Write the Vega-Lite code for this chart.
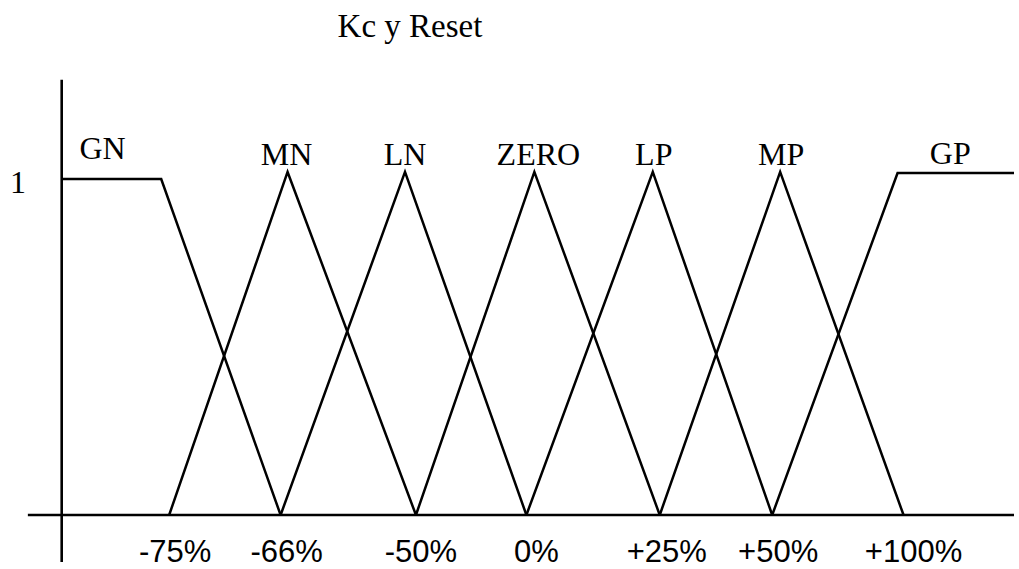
{
  "$schema": "https://vega.github.io/schema/vega-lite/v6.json",
  "width": 1019,
  "height": 569,
  "autosize": {"type": "fit", "contains": "padding"},
  "padding": 0,
  "background": "white",
  "config": {"view": {"stroke": null}},
  "datasets": {
    "sets": [
      {"set": "GN", "o": 0, "x": 62, "y": 1.0},
      {"set": "GN", "o": 1, "x": 162, "y": 1.0},
      {"set": "GN", "o": 2, "x": 282, "y": 0},
      {"set": "MN", "o": 0, "x": 170, "y": 0},
      {"set": "MN", "o": 1, "x": 289, "y": 1.021},
      {"set": "MN", "o": 2, "x": 418, "y": 0},
      {"set": "LN", "o": 0, "x": 282, "y": 0},
      {"set": "LN", "o": 1, "x": 407, "y": 1.021},
      {"set": "LN", "o": 2, "x": 529, "y": 0},
      {"set": "ZERO", "o": 0, "x": 418, "y": 0},
      {"set": "ZERO", "o": 1, "x": 537, "y": 1.021},
      {"set": "ZERO", "o": 2, "x": 663, "y": 0},
      {"set": "LP", "o": 0, "x": 529, "y": 0},
      {"set": "LP", "o": 1, "x": 656, "y": 1.021},
      {"set": "LP", "o": 2, "x": 776, "y": 0},
      {"set": "MP", "o": 0, "x": 663, "y": 0},
      {"set": "MP", "o": 1, "x": 784, "y": 1.021},
      {"set": "MP", "o": 2, "x": 908, "y": 0},
      {"set": "GP", "o": 0, "x": 776, "y": 0},
      {"set": "GP", "o": 1, "x": 902, "y": 1.018},
      {"set": "GP", "o": 2, "x": 1019, "y": 1.018}
    ],
    "serifText": [
      {"label": "Kc y Reset", "x": 412, "y": 1.4226, "size": 33},
      {"label": "GN", "x": 103, "y": 1.0595, "size": 32},
      {"label": "MN", "x": 288, "y": 1.0417, "size": 32},
      {"label": "LN", "x": 407, "y": 1.0417, "size": 32},
      {"label": "ZERO", "x": 541, "y": 1.0417, "size": 32},
      {"label": "LP", "x": 657, "y": 1.0417, "size": 32},
      {"label": "MP", "x": 785, "y": 1.0417, "size": 32},
      {"label": "GP", "x": 955, "y": 1.0446, "size": 32},
      {"label": "1", "x": 18, "y": 0.958, "size": 32}
    ],
    "ticks": [
      {"label": "-75%", "x": 176, "y": -0.1399},
      {"label": "-66%", "x": 288, "y": -0.1399},
      {"label": "-50%", "x": 423, "y": -0.1399},
      {"label": "0%", "x": 539, "y": -0.1399},
      {"label": "+25%", "x": 670, "y": -0.1399},
      {"label": "+50%", "x": 782, "y": -0.1399},
      {"label": "+100%", "x": 918, "y": -0.1399}
    ]
  },
  "encoding": {
    "x": {"field": "x", "type": "quantitative", "scale": {"domain": [0, 1019], "nice": false, "zero": false}, "axis": null},
    "y": {"field": "y", "type": "quantitative", "scale": {"domain": [-0.1607, 1.5327], "nice": false, "zero": false}, "axis": null}
  },
  "layer": [
    {
      "data": {"values": [{"x": 62, "y": -0.14, "y2": 1.295}]},
      "mark": {"type": "rule", "color": "black", "strokeWidth": 2.6},
      "encoding": {"y2": {"field": "y2"}}
    },
    {
      "data": {"values": [{"x": 28, "x2": 1019, "y": 0}]},
      "mark": {"type": "rule", "color": "black", "strokeWidth": 2.6},
      "encoding": {"x2": {"field": "x2"}}
    },
    {
      "data": {"name": "sets"},
      "mark": {"type": "line", "color": "black", "strokeWidth": 2.5},
      "encoding": {
        "detail": {"field": "set", "type": "nominal"},
        "order": {"field": "o", "type": "quantitative"}
      }
    },
    {
      "data": {"name": "serifText"},
      "mark": {"type": "text", "font": "Liberation Serif", "color": "black", "align": "center", "baseline": "alphabetic"},
      "encoding": {
        "text": {"field": "label"},
        "size": {"field": "size", "type": "quantitative", "scale": null}
      }
    },
    {
      "data": {"name": "ticks"},
      "mark": {"type": "text", "font": "Liberation Sans", "fontSize": 31, "color": "black", "align": "center", "baseline": "alphabetic"},
      "encoding": {"text": {"field": "label"}}
    }
  ]
}
